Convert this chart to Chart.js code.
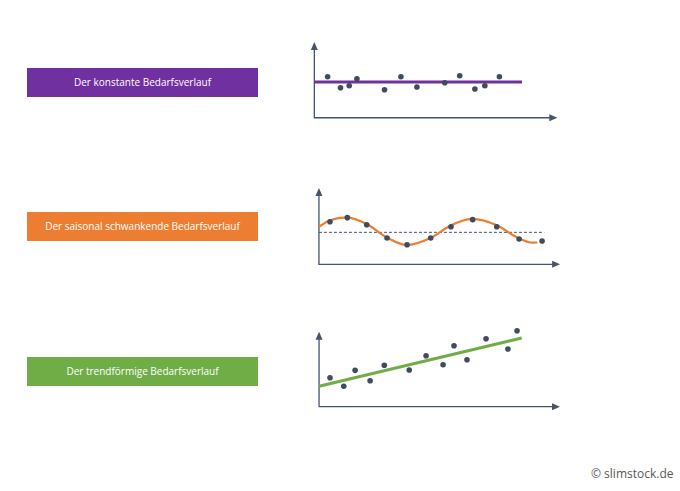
<!DOCTYPE html>
<html>
<head>
<meta charset="utf-8">
<script src="https://cdn.jsdelivr.net/npm/chart.js@4/dist/chart.umd.min.js"></script>
<style>
  body { margin: 0; width: 680px; height: 491px; background: #fff; position: relative; overflow: hidden; font-family: "Open Sans", sans-serif; }
  .box { position: absolute; left: 27px; width: 231px; height: 29px; color: #fff; font-size: 10px; line-height: 29px; text-align: center; }
  .wrap { position: absolute; }
  .copy { position: absolute; left: 591px; top: 465px; font-size: 12px; color: #595959; }
</style>
</head>
<body>
<div class="box" style="top:68px;background:#7030a0">Der konstante Bedarfsverlauf</div>
<div class="box" style="top:212px;background:#ed7d31">Der saisonal schwankende Bedarfsverlauf</div>
<div class="box" style="top:357px;background:#70ad47">Der trendförmige Bedarfsverlauf</div>

<div class="wrap" style="left:300px;top:30px;width:270px;height:100px"><canvas id="c1"></canvas></div>
<div class="wrap" style="left:300px;top:175px;width:275px;height:100px"><canvas id="c2"></canvas></div>
<div class="wrap" style="left:300px;top:320px;width:275px;height:100px"><canvas id="c3"></canvas></div>

<div class="copy">© slimstock.de</div>

<script>
// constant demand
const constX = [0.64, 1.26, 1.68, 2.05, 3.38, 4.17, 4.94, 6.28, 7.00, 7.73, 8.21, 8.91];
const constY = [5.42, 3.96, 4.23, 5.15, 3.70, 5.42, 4.06, 4.62, 5.55, 3.79, 4.23, 5.42];
const constLevel = 4.72;

// seasonal demand
const seasX = [0.49, 1.26, 2.12, 3.02, 3.91, 4.96, 5.86, 6.82, 7.89, 8.88, 9.90];
const seasY = [5.58, 6.11, 5.19, 3.45, 2.57, 3.45, 4.93, 5.85, 4.93, 3.32, 3.06];
const seasCurveX = [0, 0.49, 1.23, 2.12, 3.00, 3.89, 4.93, 5.81, 6.78, 7.89, 8.77, 9.51, 9.69];
const seasCurveY = [4.93, 5.77, 6.16, 5.28, 3.54, 2.53, 3.41, 5.02, 5.94, 5.11, 3.54, 2.83, 2.88];
const seasMean = 4.19;

// trend demand
const trendX = [0.54, 1.22, 1.78, 2.52, 3.22, 4.45, 5.28, 6.12, 6.66, 7.30, 8.24, 9.32, 9.77];
const trendY = [3.87, 2.72, 4.85, 3.47, 5.52, 4.89, 6.80, 5.60, 8.13, 6.27, 9.07, 7.69, 10.13];
const trendStart = 2.72;
const trendEnd = 9.16;

const dotColor = "#3f4b5f";
const axisColor = "#44546a";

const zip = (xs, ys) => xs.map((x, i) => ({ x: x, y: ys[i] }));

// draws the two arrow axes from the origin
const arrowAxes = {
  id: "arrowAxes",
  beforeDatasetsDraw(chart, args, opts) {
    const c = chart.ctx, xs = chart.scales.x, ys = chart.scales.y;
    const ox = xs.getPixelForValue(0), oy = ys.getPixelForValue(0);
    const tx = xs.getPixelForValue(opts.xEnd), ty = ys.getPixelForValue(10);
    c.save();
    c.strokeStyle = axisColor;
    c.fillStyle = axisColor;
    c.lineWidth = 1.3;
    c.beginPath();
    c.moveTo(ox, ty + 6);
    c.lineTo(ox, oy);
    c.lineTo(tx - 7, oy);
    c.stroke();
    c.beginPath();
    c.moveTo(ox, ty);
    c.lineTo(ox - 3.5, ty + 8);
    c.lineTo(ox + 3.5, ty + 8);
    c.closePath();
    c.fill();
    c.beginPath();
    c.moveTo(tx, oy);
    c.lineTo(tx - 8, oy - 3.5);
    c.lineTo(tx - 8, oy + 3.5);
    c.closePath();
    c.fill();
    c.restore();
  },
};

function makeChart(id, datasets, xr, yr, xEnd) {
  new Chart(document.getElementById(id), {
    type: "scatter",
    data: { datasets: datasets },
    options: {
      responsive: true,
      maintainAspectRatio: false,
      animation: false,
      layout: { padding: 0, autoPadding: false },
      scales: {
        x: { type: "linear", min: xr[0], max: xr[1], display: false },
        y: { type: "linear", min: yr[0], max: yr[1], display: false },
      },
      plugins: {
        legend: { display: false },
        tooltip: { enabled: false },
        arrowAxes: { xEnd: xEnd },
      },
    },
    plugins: [arrowAxes],
  });
}

const dots = (xs, ys) => ({
  data: zip(xs, ys),
  pointRadius: 2.8,
  pointBackgroundColor: dotColor,
  pointBorderWidth: 0,
  showLine: false,
  order: 0,
});

makeChart("c1", [
  dots(constX, constY),
  {
    data: [{ x: 0, y: constLevel }, { x: 10, y: constLevel }],
    showLine: true,
    borderColor: "#7030a0",
    borderWidth: 3,
    pointRadius: 0,
    order: 1,
  },
], [-0.69, 12.31], [-1.62, 11.59], 11.7);

makeChart("c2", [
  dots(seasX, seasY),
  {
    data: zip(seasCurveX, seasCurveY),
    showLine: true,
    borderColor: "#ed7d31",
    borderWidth: 2.2,
    pointRadius: 0,
    cubicInterpolationMode: "monotone",
    order: 1,
  },
  {
    data: [{ x: 0, y: seasMean }, { x: 10, y: seasMean }],
    showLine: true,
    borderColor: axisColor,
    borderWidth: 1,
    borderDash: [3, 2],
    pointRadius: 0,
    order: 2,
  },
], [-0.84, 11.36], [-1.40, 11.70], 10.7);

makeChart("c3", [
  dots(trendX, trendY),
  {
    data: [{ x: 0, y: trendStart }, { x: 10, y: trendEnd }],
    showLine: true,
    borderColor: "#70ad47",
    borderWidth: 3,
    pointRadius: 0,
    order: 1,
  },
], [-0.94, 12.63], [-1.77, 11.56], 11.89);
</script>
</body>
</html>
